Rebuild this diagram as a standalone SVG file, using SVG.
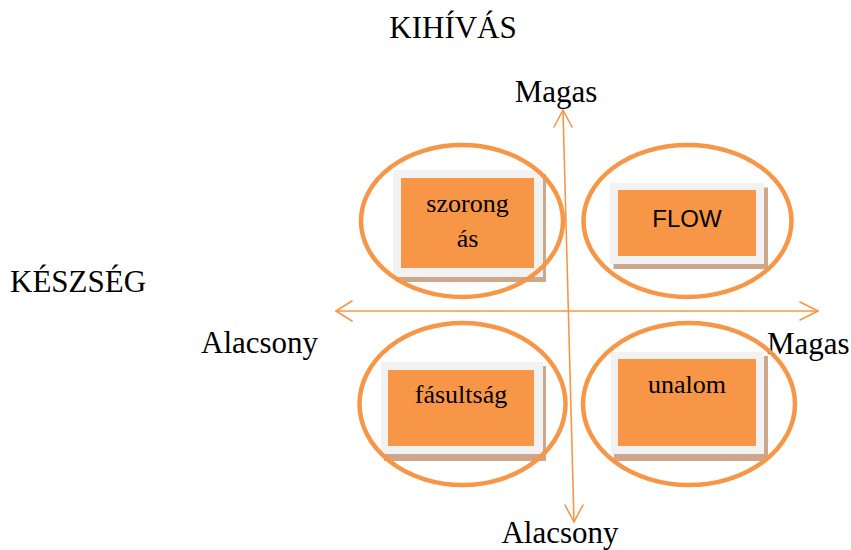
<svg xmlns="http://www.w3.org/2000/svg" width="851" height="550" viewBox="0 0 851 550">
  <defs>
    <style>
      .lbl { font-family: "Liberation Serif", "Times New Roman", serif; font-size: 31px; fill: #000; }
      .box-txt { font-family: "Liberation Serif", "Times New Roman", serif; font-size: 26px; fill: #000; text-anchor: middle; }
      .box-sans { font-family: "Liberation Sans", Arial, sans-serif; font-size: 24px; fill: #000; text-anchor: middle; }
      .axis { stroke: #F79646; stroke-width: 1.6; fill: none; stroke-linecap: round; stroke-linejoin: round; }
      .ring { stroke: #F79646; stroke-width: 4.5; fill: none; }
      .shadow { fill: #C49878; opacity: 0.85; }
      .frame { fill: #F2F2F2; }
      .core { fill: #F79646; }
    </style>
  </defs>

  <!-- axis titles and scale ends -->
  <text class="lbl" x="453" y="38" text-anchor="middle">KIHÍVÁS</text>
  <text class="lbl" x="10" y="292">KÉSZSÉG</text>
  <text class="lbl" x="556" y="102" text-anchor="middle">Magas</text>
  <text class="lbl" x="560" y="543" text-anchor="middle">Alacsony</text>
  <text class="lbl" x="201" y="353">Alacsony</text>
  <text class="lbl" x="767" y="354">Magas</text>

  <!-- axes -->
  <g id="connectors">
    <line class="axis" x1="336" y1="311" x2="818" y2="311"/>
    <polyline class="axis" points="352,301 336,311 352,321"/>
    <polyline class="axis" points="800,302 818,311 800,320"/>
    <line class="axis" x1="563" y1="110" x2="574" y2="522"/>
    <polyline class="axis" points="554,127 563,110 572,127"/>
    <polyline class="axis" points="565,505 574,522 583,505"/>
  </g>

  <!-- high challenge, low skill -->
  <g id="szorongas">
    <rect class="shadow" x="396" y="174" width="150" height="108"/>
    <rect class="frame" x="393" y="170" width="150" height="107"/>
    <rect class="core" x="401" y="178" width="133" height="90"/>
    <text class="box-txt" x="467.5" y="212">szorong</text>
    <text class="box-txt" x="467.5" y="247">ás</text>
    <ellipse class="ring" cx="462" cy="221" rx="101" ry="76"/>
  </g>

  <!-- high challenge, high skill -->
  <g id="flow">
    <rect class="shadow" x="613.5" y="187.5" width="154.5" height="81.5"/>
    <rect class="frame" x="610" y="183" width="154" height="81"/>
    <rect class="core" x="618" y="190" width="138" height="66"/>
    <text class="box-sans" x="687" y="227">FLOW</text>
    <ellipse class="ring" cx="687.5" cy="221" rx="104" ry="76"/>
  </g>

  <!-- low challenge, low skill -->
  <g id="fasultsag">
    <rect class="shadow" x="384" y="366" width="162" height="95"/>
    <rect class="frame" x="381" y="362" width="162" height="92"/>
    <rect class="core" x="388" y="370" width="146" height="76"/>
    <text class="box-txt" x="461" y="403">fásultság</text>
    <ellipse class="ring" cx="462.5" cy="404" rx="103" ry="81"/>
  </g>

  <!-- low challenge, high skill -->
  <g id="unalom">
    <rect class="shadow" x="614" y="356" width="154" height="105"/>
    <rect class="frame" x="611" y="352" width="153" height="102"/>
    <rect class="core" x="618" y="359" width="138" height="87"/>
    <text class="box-txt" x="687" y="393">unalom</text>
    <ellipse class="ring" cx="689" cy="404" rx="106" ry="81"/>
  </g>
</svg>
